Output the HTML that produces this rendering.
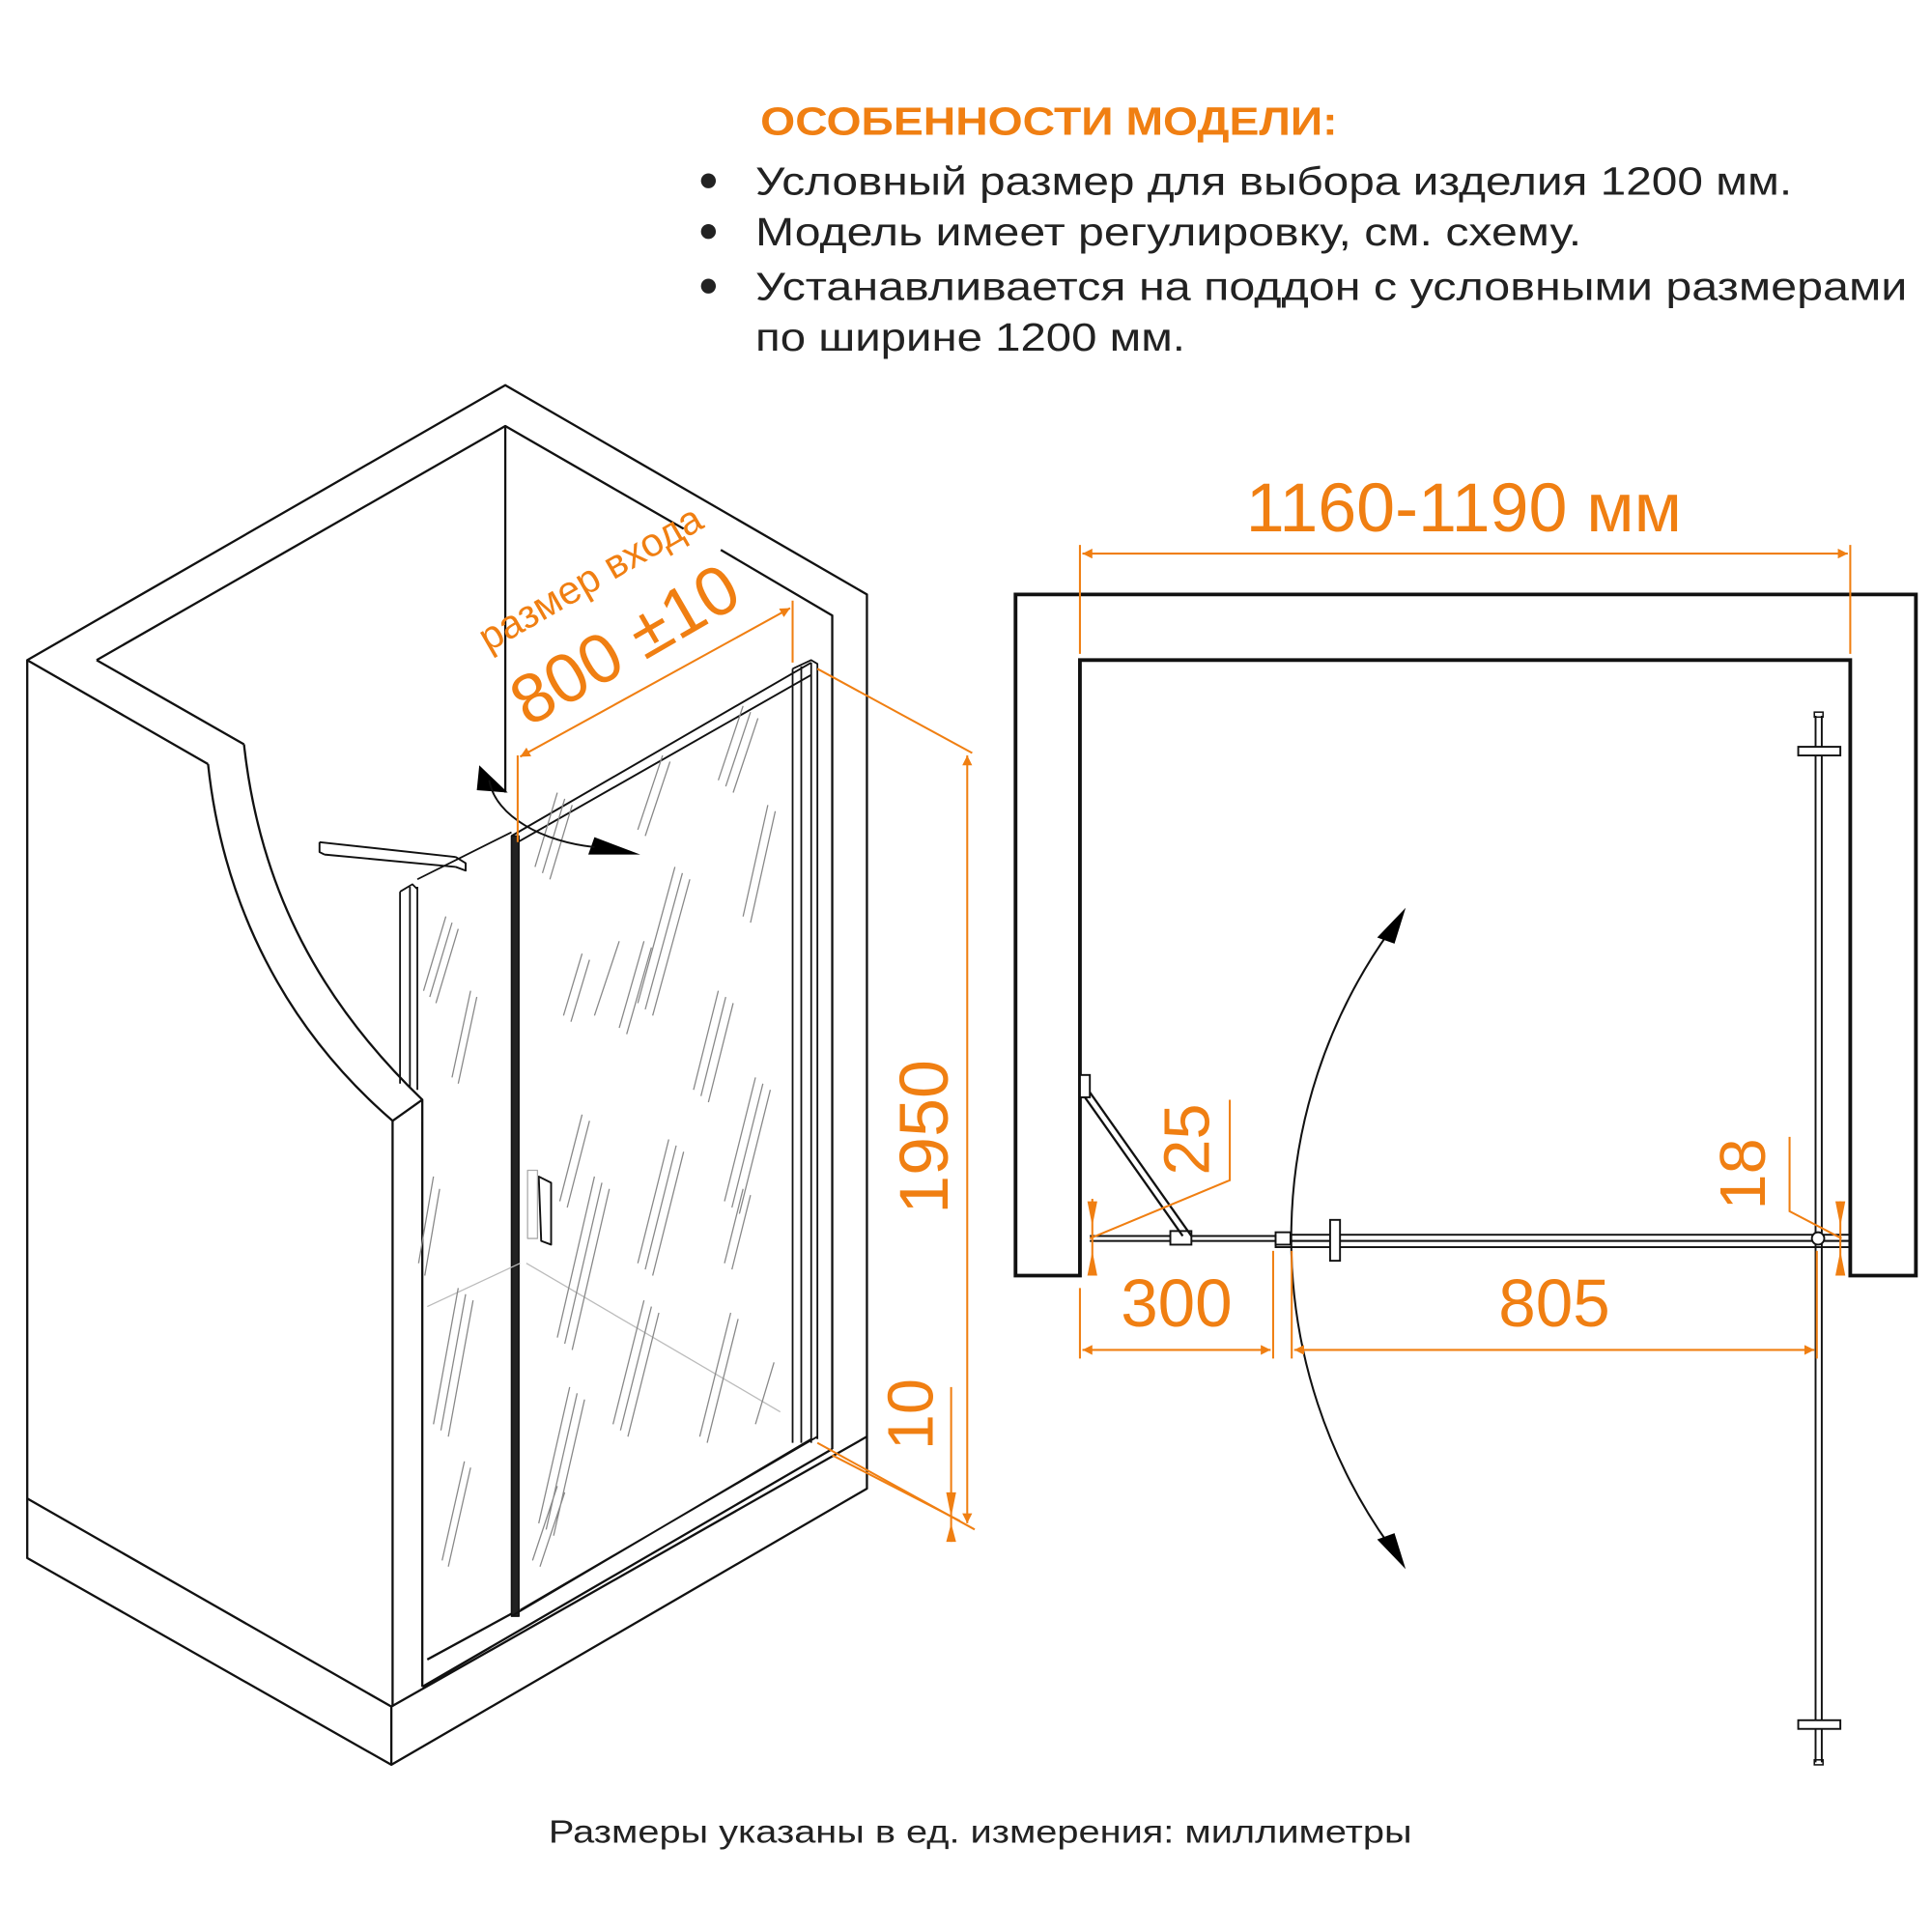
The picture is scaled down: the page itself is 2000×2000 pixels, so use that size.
<!DOCTYPE html>
<html><head><meta charset="utf-8"><style>
html,body{margin:0;padding:0;background:#fff}
svg{display:block}
text{font-family:"Liberation Sans",sans-serif}
</style></head><body>
<svg width="2000" height="2000" viewBox="0 0 1560 1560" xmlns="http://www.w3.org/2000/svg">
<defs>
<marker id="oa" viewBox="0 0 10 10" refX="10" refY="5" markerWidth="22" markerHeight="8" markerUnits="userSpaceOnUse" orient="auto-start-reverse"><path d="M0,0L10,5L0,10z" fill="#f07f12"/></marker>
</defs>
<!-- Header text -->
<text x="614" y="109" font-size="32" font-weight="bold" fill="#f07f12" textLength="466" lengthAdjust="spacingAndGlyphs">ОСОБЕННОСТИ МОДЕЛИ:</text>
<g font-size="32" fill="#222">
<circle cx="572" cy="146" r="6"/><circle cx="572" cy="187" r="6"/><circle cx="572" cy="231" r="6"/>
<text x="610" y="157" textLength="837" lengthAdjust="spacingAndGlyphs">Условный размер для выбора изделия 1200 мм.</text>
<text x="610" y="198" textLength="667" lengthAdjust="spacingAndGlyphs">Модель имеет регулировку, см. схему.</text>
<text x="610" y="242" textLength="930" lengthAdjust="spacingAndGlyphs">Устанавливается на поддон с условными размерами</text>
<text x="610" y="283" textLength="347" lengthAdjust="spacingAndGlyphs">по ширине 1200 мм.</text>
</g>
<text x="443" y="1488" font-size="26" fill="#222" textLength="697" lengthAdjust="spacingAndGlyphs">Размеры указаны в ед. измерения: миллиметры</text>

<!-- Plan view -->
<g fill="none" stroke="#111">
<path d="M820,1030V480H1547V1030H1494V533H872V1030Z" stroke-width="3" fill="#fff"/>
<line x1="880" y1="998" x2="1030" y2="998" stroke-width="1.5"/>
<line x1="880" y1="1002" x2="1030" y2="1002" stroke-width="1.5"/>
<rect x="1030" y="997" width="464" height="5" stroke-width="1.5"/>
<rect x="1030" y="1002" width="464" height="5" stroke-width="1.5"/>
<rect x="1074" y="985" width="8" height="33" fill="#fff" stroke-width="1.5"/>
<rect x="1030" y="995" width="12" height="10" fill="#fff" stroke-width="1.5"/>
<rect x="945" y="994" width="17" height="11" fill="#fff" stroke-width="1.5"/>
<path d="M872,886L876,886L955,998M880,882L962,998" stroke-width="1.8"/>
<rect x="872" y="868" width="8" height="18" fill="#fff" stroke-width="1.5"/>
<line x1="1466" y1="578" x2="1466" y2="1423" stroke-width="1.5"/>
<line x1="1471" y1="578" x2="1471" y2="1423" stroke-width="1.5"/>
<rect x="1452" y="603" width="34" height="7" fill="#fff" stroke-width="1.5"/>
<rect x="1452" y="1389" width="34" height="7" fill="#fff" stroke-width="1.5"/>
<rect x="1465" y="575" width="7" height="4" stroke-width="1.2"/>
<rect x="1465" y="1421" width="7" height="4" stroke-width="1.2"/>
<circle cx="1468" cy="1000" r="5" fill="#fff" stroke-width="1.5"/>
<path d="M1122,752A427,427 0 0 0 1122,1248" stroke-width="1.6"/>
</g>
<path d="M1135,733L1112,757L1126,762Z" fill="#000"/>
<path d="M1135,1267L1112,1243L1126,1238Z" fill="#000"/>
<g stroke="#f07f12" stroke-width="1.6" fill="none">
<line x1="872" y1="440" x2="872" y2="528"/><line x1="1494" y1="440" x2="1494" y2="528"/>
<line x1="874" y1="447" x2="1492" y2="447" marker-start="url(#oa)" marker-end="url(#oa)"/>
<line x1="872" y1="1040" x2="872" y2="1097"/><line x1="1028" y1="1010" x2="1028" y2="1097"/>
<line x1="1043" y1="1010" x2="1043" y2="1097"/><line x1="1467" y1="1010" x2="1467" y2="1097"/>
<line x1="874" y1="1090" x2="1026" y2="1090" marker-start="url(#oa)" marker-end="url(#oa)"/>
<line x1="1045" y1="1090" x2="1465" y2="1090" marker-start="url(#oa)" marker-end="url(#oa)"/>
<polyline points="880,1000 993,953 993,888"/>
<polyline points="1445,918 1445,978 1487,1000"/>
<line x1="882" y1="968" x2="882" y2="1030"/>
<line x1="1486" y1="970" x2="1486" y2="1030"/>
</g>
<g fill="#f07f12">
<path d="M878,970h8l-4,20z M878,1030h8l-4,-20z M1482,970h8l-4,20z M1482,1030h8l-4,-20z"/>
<text x="1182" y="429" font-size="56" text-anchor="middle">1160-1190 мм</text>
<text x="950" y="1071" font-size="54" text-anchor="middle">300</text>
<text x="1255" y="1071" font-size="54" text-anchor="middle">805</text>
<text transform="translate(976,920) rotate(-90)" font-size="52" text-anchor="middle">25</text>
<text transform="translate(1425,948) rotate(-90)" font-size="52" text-anchor="middle">18</text>
</g>

<!-- Isometric view -->
<g fill="none" stroke="#111" stroke-width="1.8" stroke-linejoin="round">
<path d="M22,533L408,311L700,480V1202L316,1425L22,1258Z" fill="#fff"/>
<path d="M78,533L408,344L552,427M582,444L672,497V1170"/>
<line x1="408" y1="344" x2="408" y2="640"/>
<path d="M22,533L168,617M78,533L197,601"/>
<path d="M168,617C180,730 230,830 317,905M197,601C210,720 260,810 341,888"/>
<path d="M317,905L341,888V1362M317,905V1378"/>
<path d="M22,1210L316,1378L700,1160M316,1378V1425M341,1362L672,1170"/>
<path d="M345,1340L413,1303"/>
<path d="M413,675L655,535M418,680L655,545" stroke-width="1.5"/>
<rect x="413" y="675" width="6" height="630" fill="#222" stroke-width="1.2"/>
<path d="M413,1305L655,1162M420,1300L660,1160" stroke-width="1.5"/>
<path d="M640,540V1165M647,538V1165M655,535V1165M640,540L655,533L660,536V1162" stroke-width="1.4"/>
<path d="M323,720V875M331,716V878M337,716V880M323,720L333,714L337,718M337,710L413,672" stroke-width="1.4"/>
<path d="M258,680L368,692M262,690L368,700M258,680V688L262,690M368,692L376,697V703L368,700" stroke-width="1.5"/>
<path d="M435,950L445,955V1005L437,1002Z" stroke-width="1.5"/>
<rect x="426" y="945" width="8" height="55" stroke="#aaa" stroke-width="1"/>
</g>
<g stroke="#bbb" stroke-width="1">
<line x1="345" y1="1055" x2="420" y2="1020"/><line x1="425" y1="1020" x2="630" y2="1140"/>
</g>
<g stroke="#888" stroke-width="1" fill="none">
<path d="M360,740l-18,60M365,745l-18,60M370,750l-18,60 M380,800l-15,70M385,805l-15,70 M350,950l-12,70M355,960l-12,70 M370,1040l-20,110M376,1045l-20,110M382,1050l-20,110 M375,1180l-18,80M380,1185l-18,80"/>
<path d="M450,640l-18,60M456,645l-18,60M462,650l-18,60 M535,610l-20,60M541,615l-20,60 M600,570l-20,60M606,575l-20,60M612,580l-20,60 M520,760l-20,70M526,765l-20,70 M545,700l-30,110M551,705l-30,110M557,710l-30,110 M620,650l-20,90M626,655l-20,90 M470,770l-15,50M476,775l-15,50 M470,900l-18,70M476,905l-18,70 M500,760l-20,60 M580,800l-20,80M586,805l-20,80M592,810l-20,80 M540,920l-25,100M546,925l-25,100M552,930l-25,100 M610,870l-25,100M616,875l-25,100M622,880l-25,100 M480,950l-30,130M486,955l-30,130M492,960l-30,130 M600,960l-15,60M606,965l-15,60 M520,1050l-25,100M526,1055l-25,100M532,1060l-25,100 M590,1060l-25,100M596,1065l-25,100 M460,1120l-25,110M466,1125l-25,110M472,1130l-25,110 M625,1100l-15,50 M450,1200l-20,60M456,1205l-20,60"/>
</g>
<path d="M410,640L387,618L385,638Z" fill="#000"/>
<path d="M517,690L480,676L475,690Z" fill="#000"/>
<path d="M395,630C400,660 440,680 480,684" fill="none" stroke="#111" stroke-width="1.5"/>
<g stroke="#f07f12" stroke-width="1.6" fill="none">
<line x1="418" y1="610" x2="418" y2="680"/><line x1="640" y1="485" x2="640" y2="535"/>
<line x1="420" y1="611" x2="638" y2="491" marker-start="url(#oa)" marker-end="url(#oa)"/>
<line x1="660" y1="540" x2="785" y2="608"/>
<line x1="781" y1="610" x2="781" y2="1230" marker-start="url(#oa)" marker-end="url(#oa)"/>
<line x1="768" y1="1120" x2="768" y2="1245"/>
<line x1="660" y1="1165" x2="787" y2="1235"/><line x1="672" y1="1175" x2="775" y2="1228"/>
</g>
<path d="M764,1205h8l-4,20z M764,1245h8l-4,-15z" fill="#f07f12"/>
<g fill="#f07f12">
<text transform="translate(482,476) rotate(-30)" font-size="32" text-anchor="middle">размер входа</text>
<text transform="translate(514,537) rotate(-30)" font-size="56" text-anchor="middle">800 ±10</text>
<text transform="translate(765,918) rotate(-90)" font-size="56" text-anchor="middle">1950</text>
<text transform="translate(753,1142) rotate(-90)" font-size="52" text-anchor="middle">10</text>
</g>
</svg>
</body></html>
